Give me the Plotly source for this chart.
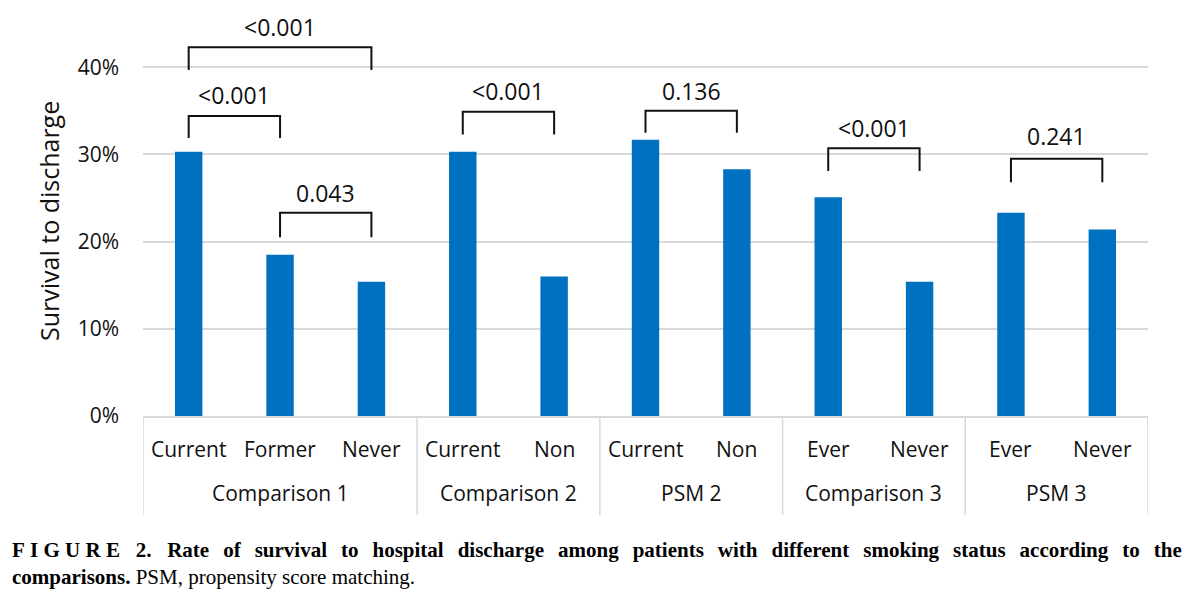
import plotly.graph_objects as go

# ---- data ----
groups = ["Comparison 1", "Comparison 2", "PSM 2", "Comparison 3", "PSM 3"]
group_sizes = [3, 2, 2, 2, 2]
categories = ["Current", "Former", "Never", "Current", "Non", "Current", "Non",
              "Ever", "Never", "Ever", "Never"]
values = [30.3, 18.5, 15.4, 30.3, 16.0, 31.7, 28.3, 25.1, 15.4, 23.3, 21.4]

bracket_pairs = [(0, 2), (0, 1), (1, 2), (3, 4), (5, 6), (7, 8), (9, 10)]
bracket_labels = ["<0.001", "<0.001", "0.043", "<0.001", "0.136", "<0.001", "0.241"]
bracket_top = [42.3, 34.4, 23.3, 34.9, 35.0, 30.7, 29.5]
bracket_bottom = [39.7, 31.9, 20.5, 32.3, 32.5, 28.1, 26.8]
bracket_label_y = [44.6, 36.8, 25.6, 37.3, 37.3, 33.0, 32.1]

y_ticks = [0, 10, 20, 30, 40]
y_tick_text = ["0%", "10%", "20%", "30%", "40%"]

caption_head = "FIGURE"
caption_num = "2."
caption_title = "Rate of survival to hospital discharge among patients with different smoking status according to the"
caption_line2_bold = "comparisons."
caption_line2 = "PSM, propensity score matching."

BLUE = "#0070C0"
GRID = "#d9d9d9"
FONT = "Open Sans"
TXT = "#111111"

x_idx = list(range(len(categories)))

fig = go.Figure()
fig.add_trace(go.Bar(x=x_idx, y=values, width=0.3, marker=dict(color=BLUE, line=dict(width=0)),
                     hoverinfo="skip", showlegend=False))

shapes = []
annotations = []

# brackets
for (i, j), lab, top, bot, ly in zip(bracket_pairs, bracket_labels, bracket_top,
                                     bracket_bottom, bracket_label_y):
    shapes.append(dict(type="path", xref="x", yref="y",
                       path=f"M {x_idx[i]},{bot} L {x_idx[i]},{top} L {x_idx[j]},{top} L {x_idx[j]},{bot}",
                       line=dict(color="#111111", width=2)))
    annotations.append(dict(x=(x_idx[i] + x_idx[j]) / 2, y=ly, xref="x", yref="y",
                            text=lab, showarrow=False, font=dict(family=FONT, size=23, color=TXT),
                            xanchor="center", yanchor="middle"))

# category labels
for xi, c in zip(x_idx, categories):
    annotations.append(dict(x=xi, y=0, xref="x", yref="paper", yshift=-33, text=c,
                            showarrow=False, font=dict(family=FONT, size=21, color=TXT),
                            xanchor="center", yanchor="middle"))

# group labels and dividers
start = 0
bounds = [-0.5]
for g, n in zip(groups, group_sizes):
    center = start + (n - 1) / 2
    annotations.append(dict(x=center, y=0, xref="x", yref="paper", yshift=-77, text=g,
                            showarrow=False, font=dict(family=FONT, size=21, color=TXT),
                            xanchor="center", yanchor="middle"))
    start += n
    bounds.append(start - 0.5)

for b in bounds:
    shapes.append(dict(type="line", xref="x", yref="paper", x0=b, x1=b, y0=0, y1=-0.2426,
                       line=dict(color=GRID, width=1.5)))

# y-axis title
annotations.append(dict(x=0, y=0, xref="paper", yref="paper", xshift=-94, yshift=195,
                        text="Survival to discharge", textangle=-90, showarrow=False,
                        font=dict(family=FONT, size=25, color=TXT),
                        xanchor="center", yanchor="middle"))

# caption (first line justified like the original)
NB = "\u00a0"
head = NB.join(list(caption_head)) + NB + NB + NB + caption_num
title = (" " + NB + "\u2006").join(caption_title.split(" "))
annotations.append(dict(x=0, y=0, xref="paper", yref="paper", xshift=-133, yshift=-134,
                        text=f"<b>{head}{NB}{NB} {title}</b>",
                        showarrow=False, font=dict(family="Liberation Serif", size=21, color="#000"),
                        xanchor="left", yanchor="middle"))
annotations.append(dict(x=0, y=0, xref="paper", yref="paper", xshift=-133, yshift=-161,
                        text=f"<b>{caption_line2_bold}</b> {caption_line2}",
                        showarrow=False, font=dict(family="Liberation Serif", size=21, color="#000"),
                        xanchor="left", yanchor="middle"))

fig.update_layout(
    width=1192, height=593,
    margin=dict(l=135, r=52, t=0, b=185),
    paper_bgcolor="white", plot_bgcolor="white",
    shapes=shapes, annotations=annotations,
)
fig.update_xaxes(range=[-0.5, 10.5], showticklabels=False, showgrid=False, zeroline=False,
                 showline=True, linecolor=GRID, linewidth=1.5, ticks="", fixedrange=True)
fig.update_yaxes(range=[0, 46.8], tickmode="array", tickvals=y_ticks, ticktext=y_tick_text,
                 showgrid=True, gridcolor=GRID, gridwidth=1.5, zeroline=False, showline=False,
                 tickfont=dict(family=FONT, size=21, color=TXT), ticklabelstandoff=23,
                 fixedrange=True)

fig.write_html("out.html")
